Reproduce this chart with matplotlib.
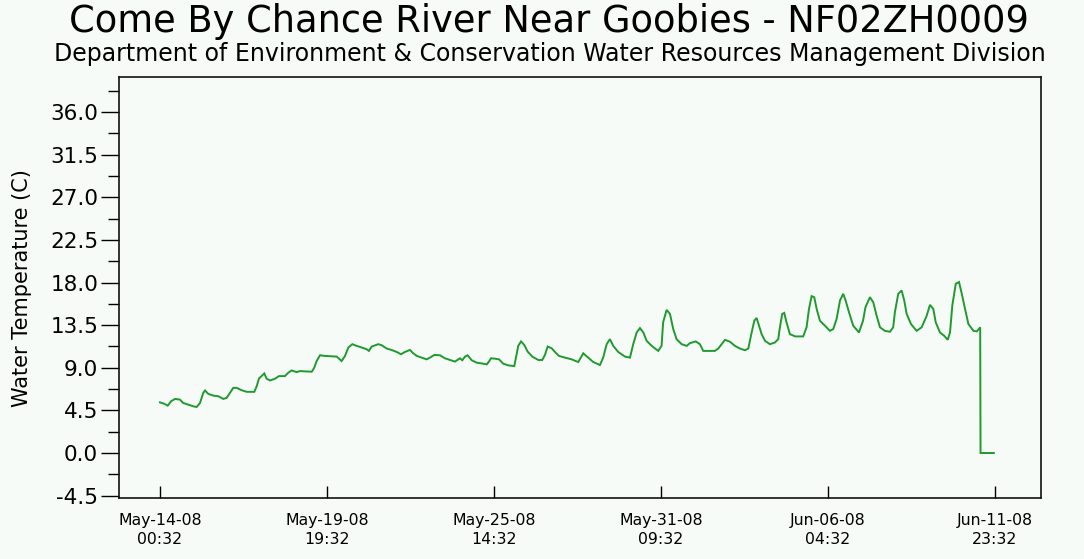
import matplotlib
matplotlib.use('Agg')
import matplotlib.pyplot as plt
import matplotlib.dates as mdates
from matplotlib.ticker import FixedLocator
from datetime import datetime, timedelta
import numpy as np

plt.rcParams['font.family'] = ['DejaVu Sans']

title = "Come By Chance River Near Goobies - NF02ZH0009"
subtitle = "Department of Environment & Conservation Water Resources Management Division"
ylabel = "Water Temperature (C)"

start = datetime(2008, 5, 14, 0, 32)

# hours since start, and water temperature (C)
hours = [0, 3.6, 6.4, 9.2, 12.5, 16.6, 19.4, 23.6, 27.7, 30.5, 33.3, 36.0, 37.5, 40.2,
         44.4, 48.5, 52.7, 55.5, 58.3, 61.0, 63.8, 68.0, 72.2, 78.5, 80.5, 82.4, 85.1,
         86.8, 88.8, 91.6, 95.7, 99.0, 104.0, 106.8, 109.6, 113.8, 116.5,
         126.3, 128.4, 130.4, 133.2, 137.3, 147.1, 151.2, 154.0, 156.8, 160.1, 163.7,
         167.9, 172.0, 173.9, 176.2, 181.7, 184.5, 188.7, 192.8, 197.0, 200.6, 203.9,
         208.1, 210.8, 213.7, 217.8, 222.0, 224.7, 228.3, 233.0,
         237.2, 241.4, 245.5, 249.7, 251.6, 253.9, 256.1, 259.5, 263.6, 269.1, 272.0,
         273.8, 275.5, 278.8, 282.2, 285.7, 289.9, 294.9, 296.3, 298.2, 300.5, 303.2,
         306.0, 309.9, 314.9, 318.2, 320.4, 322.7, 326.0, 329.3, 332.1, 337.1, 342.7,
         346.0, 348.2,
         352.3, 356.5, 360.6, 366.2, 368.9, 371.8, 374.5, 377.3, 381.4, 387.0, 391.2,
         393.9, 396.8, 399.5, 402.3, 405.1, 409.3, 414.7, 417.5, 418.8, 421.7, 424.5,
         427.2, 430.0, 434.2, 438.4, 441.1, 445.9, 449.4, 452.2, 461.9, 464.7,
         470.3, 474.5, 478.6, 482.7, 486.9, 489.7, 492.5, 494.7, 496.6, 498.6, 500.8,
         503.6, 507.7, 511.9, 514.6, 516.0, 517.9, 519.6, 521.5, 524.3, 528.8, 535.4,
         538.2, 540.2, 542.4, 544.6, 546.6, 549.3, 553.5, 557.6, 560.4, 563.2, 566.0,
         568.7, 570.7, 573.5, 577.0,
         581.8, 585.2, 587.2, 590.9, 593.7, 596.5, 599.3, 603.4, 607.6, 610.3, 611.7,
         614.5, 617.3, 619.5, 621.5, 625.1, 629.8, 634.0, 638.2, 640.9, 643.7, 645.7,
         649.2, 652.8, 655.7, 657.6, 659.5, 662.4, 665.1, 667.4, 670.1, 672.9, 677.1,
         679.9, 682.7, 683.0, 694.1]
temps = [5.35, 5.2, 5.0, 5.46, 5.71, 5.64, 5.28, 5.1, 4.93, 4.86, 5.28, 6.35, 6.6, 6.24,
         6.06, 6.0, 5.71, 5.82, 6.35, 6.88, 6.88, 6.63, 6.46, 6.46, 7.05, 7.87, 8.19,
         8.4, 7.84, 7.66, 7.84, 8.12, 8.12, 8.48, 8.72, 8.54, 8.65,
         8.58, 9.0, 9.71, 10.32, 10.25, 10.18, 9.71, 10.25, 11.14, 11.49, 11.31,
         11.14, 10.96, 10.78, 11.24, 11.49, 11.38, 11.03, 10.88, 10.67, 10.43, 10.67,
         10.88, 10.53, 10.25, 10.07, 9.89, 10.07, 10.35, 10.32,
         10.0, 9.82, 9.65, 10.0, 9.79, 10.18, 10.32, 9.79, 9.54, 9.43, 9.36,
         9.65, 10.0, 9.96, 9.89, 9.43, 9.25, 9.18, 10.07, 11.31, 11.78, 11.41,
         10.71, 10.18, 9.82, 9.82, 10.35, 11.24, 11.06, 10.6, 10.25, 10.07, 9.89,
         9.71, 9.61,
         10.53, 10.07, 9.61, 9.29, 10.07, 11.49, 12.02, 11.31, 10.67, 10.18, 10.07,
         11.49, 12.73, 13.19, 12.73, 11.84, 11.31, 10.78, 11.31, 13.8, 15.11, 14.68,
         13.09, 12.02, 11.49, 11.31, 11.6, 11.78, 11.49, 10.78, 10.78, 11.03,
         11.95, 11.74, 11.31, 11.03, 10.85, 11.03, 12.73, 13.97, 14.26, 13.44, 12.55,
         11.84, 11.49, 11.67, 12.02, 13.27, 14.68, 14.79, 13.8, 12.55, 12.31, 12.31,
         13.27, 15.21, 16.56, 16.45, 15.21, 13.97, 13.44, 12.9, 13.09, 14.15, 16.1,
         16.81, 16.1, 14.86, 13.44,
         12.73, 13.97, 15.39, 16.45, 15.92, 14.5, 13.27, 12.9, 12.8, 13.27, 14.86,
         16.81, 17.16, 16.1, 14.68, 13.62, 12.9, 13.27, 14.5, 15.64, 15.21, 13.8,
         12.73, 12.37, 11.95, 12.73, 15.57, 17.87, 18.05, 16.81, 15.21, 13.62, 12.9,
         12.84, 13.27, 0.0, 0.0]

tick_hours = [0, 139, 278, 417, 556, 695]
y_ticks = [-4.5, 0.0, 4.5, 9.0, 13.5, 18.0, 22.5, 27.0, 31.5, 36.0]

bg = '#f7fbf8'
line_color = '#1f9a2e'

times = [start + timedelta(hours=h) for h in hours]
tick_times = [start + timedelta(hours=h) for h in tick_hours]

fig = plt.figure(figsize=(10.84, 5.59), dpi=100, facecolor=bg)
ax = fig.add_axes([0.1098, 0.1091, 0.8505, 0.7532])
ax.set_facecolor(bg)

ax.plot(times, temps, color=line_color, linewidth=1.4, solid_joinstyle='miter')

ax.set_xlim(start - timedelta(hours=34.1), start + timedelta(hours=733.3))
ax.set_ylim(-4.75, 39.7)

ax.set_xticks(tick_times)
ax.set_xticklabels([t.strftime('%b-%d-%y\n%H:%M') for t in tick_times],
                   fontsize=11.3, linespacing=1.35)
ax.set_yticks(y_ticks)
ax.set_yticklabels(['%.1f' % v for v in y_ticks], fontsize=15.5)
ax.yaxis.set_minor_locator(FixedLocator(np.arange(-4.5, 39.0, 2.25)))

ax.tick_params(axis='x', direction='in', length=9, width=1, pad=11, top=False,
               colors='black')
ax.tick_params(axis='y', which='major', direction='out', length=13, width=1, pad=2,
               right=False)
ax.tick_params(axis='y', which='minor', direction='out', length=8, width=1,
               right=False)

for s in ax.spines.values():
    s.set_linewidth(1.2)
    s.set_color('#111111')

fig.text(0.506, 0.961, title, ha='center', va='center', fontsize=26.5)
fig.text(0.507, 0.904, subtitle, ha='center', va='center', fontsize=17)
fig.text(0.0203, 0.485, ylabel, ha='center', va='center', rotation=90, fontsize=15)

fig.savefig('out.png', dpi=100, facecolor=bg)
